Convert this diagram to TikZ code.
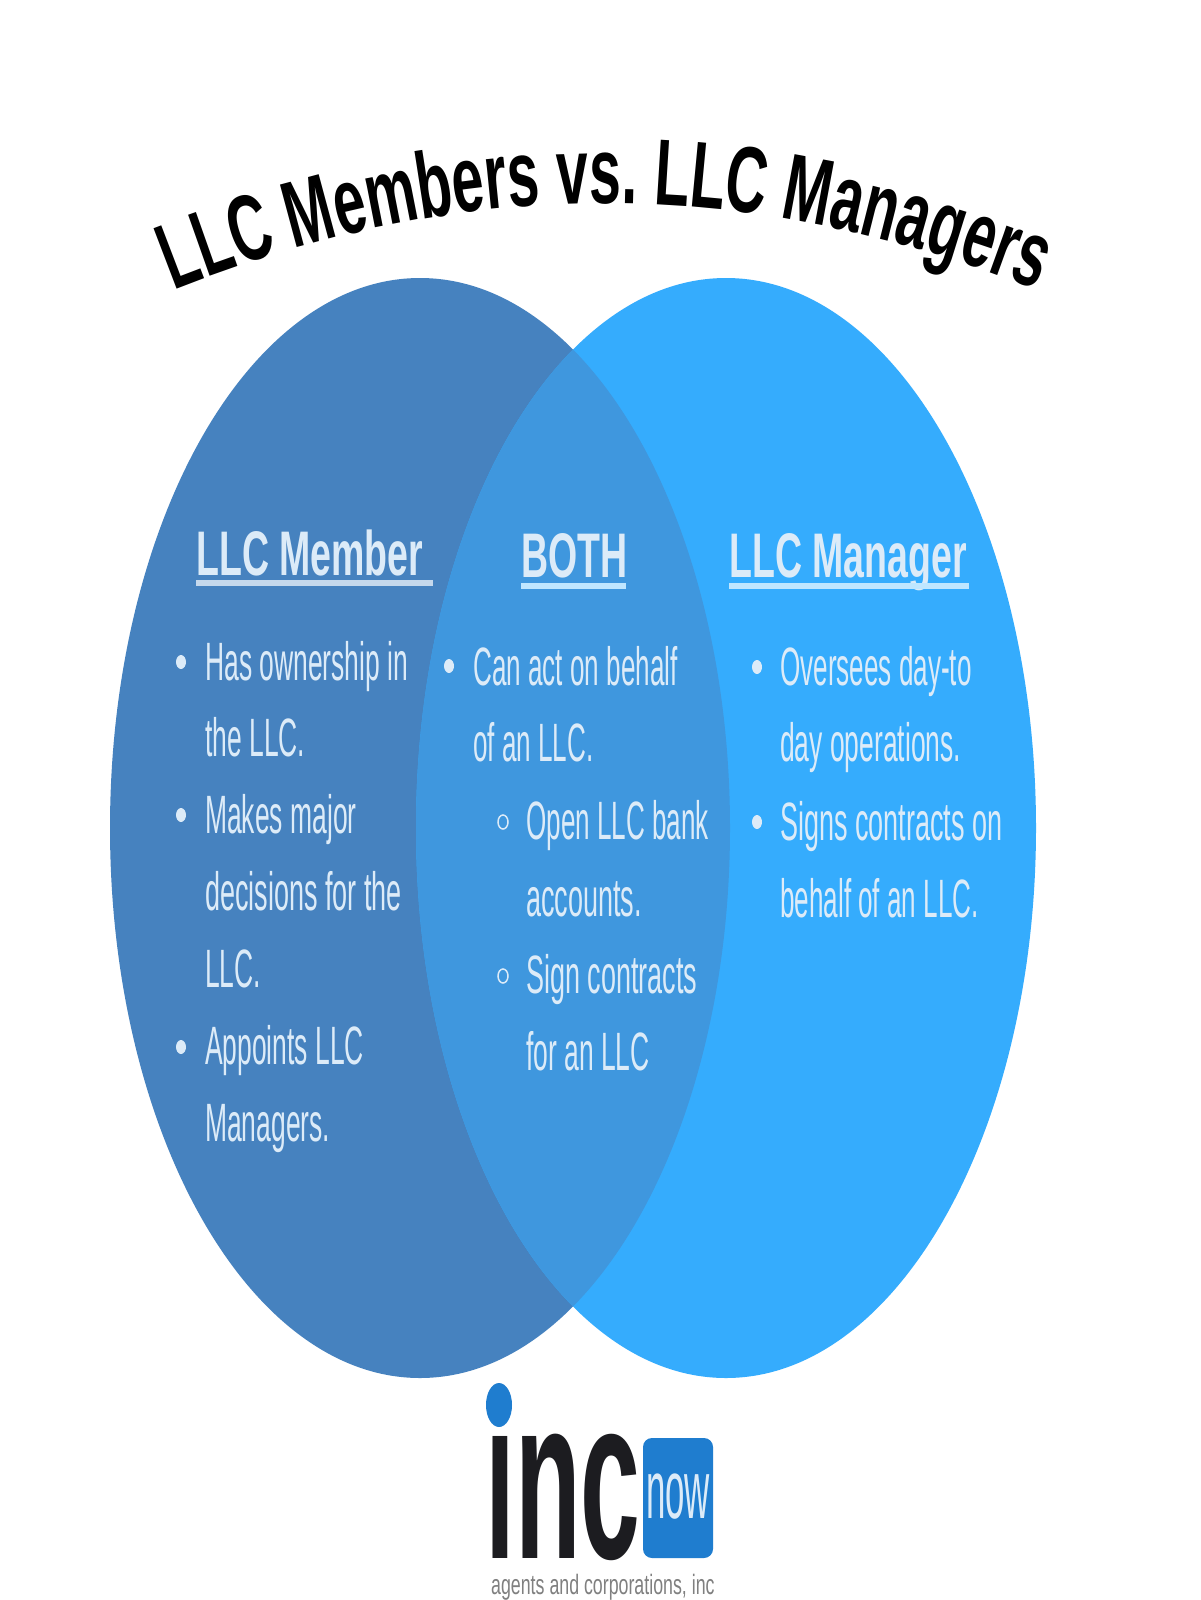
\documentclass[tikz,border=0pt]{standalone}
\usepackage{fontspec}
\usetikzlibrary{decorations.text}
\setmainfont{Liberation Sans}
\newfontfamily\bodyf[FakeStretch=0.49]{Liberation Sans}
\newfontfamily\bodyn[FakeStretch=0.483]{Liberation Sans}
\newfontfamily\bodyw[FakeStretch=0.5]{Liberation Sans}
\newfontfamily\headf[FakeStretch=0.595]{Liberation Sans Bold}
\newfontfamily\titlef[FakeStretch=0.61]{Liberation Sans Bold}
\newfontfamily\incf[FakeStretch=0.465]{Liberation Sans Bold}
\newfontfamily\nowf[FakeStretch=0.42]{Liberation Sans}
\newfontfamily\tagf[FakeStretch=0.635]{Liberation Sans}
\definecolor{leftc}{HTML}{4682BF}
\definecolor{midc}{HTML}{3F97DE}
\definecolor{rightc}{HTML}{35ACFD}
\definecolor{txtc}{HTML}{DCEBF8}
\definecolor{ruleL}{HTML}{C5D8EC}
\definecolor{ruleR}{HTML}{BFE6FF}
\definecolor{logoblue}{HTML}{1F7DCF}
\definecolor{logodark}{HTML}{1C1C20}
\tikzset{
  bodytxt/.style={anchor=base west,inner sep=0pt,text=txtc,font=\fontsize{54}{54}\bodyf},
  bodytxtn/.style={bodytxt,font=\fontsize{54}{54}\bodyn},
  bodytxtw/.style={bodytxt,font=\fontsize{54}{54}\bodyw},
  headtxt/.style={anchor=base west,inner sep=0pt,text=txtc,font=\fontsize{63}{63}\headf}
}
\begin{document}
\begin{tikzpicture}[x=1pt,y=-1pt]
\useasboundingbox (0,0) rectangle (1200,1600);
\fill[white] (0,0) rectangle (1200,1600);
% Venn
\fill[leftc] (420,828) ellipse [x radius=310,y radius=550];
\fill[rightc] (726,828) ellipse [x radius=310,y radius=550];
\begin{scope}
  \clip (420,828) ellipse [x radius=310,y radius=550];
  \fill[midc] (726,828) ellipse [x radius=310,y radius=550];
\end{scope}
% Title
\path[decorate,decoration={text along path,text align=center,
  text={|\fontsize{94}{94}\titlef|LLC Members vs. LLC Managers}}]
  (154,298) .. controls (459,172) and (751,172) .. (1056,298);
% Headings
\node[headtxt] (h1) at (196,575) {LLC Member};
\node[headtxt] (h2) at (521,577) {BOTH};
\node[headtxt] (h3) at (729,577) {LLC Manager};
\fill[ruleL] (196,580) rectangle (433,586);
\fill[ruleR] (521,583) rectangle (626,589);
\fill[ruleR] (729,583) rectangle (969,589);
% Left column
\node[bodytxt] (l1) at (205,680) {Has ownership in};
\node[bodytxt] (l2) at (205,756) {the LLC.};
\node[bodytxt] (l3) at (205,833) {Makes major};
\node[bodytxtw] (l4) at (205,910) {decisions for the};
\node[bodytxt] (l5) at (205,987) {LLC.};
\node[bodytxt] (l6) at (205,1064) {Appoints LLC};
\node[bodytxt] (l7) at (205,1141) {Managers.};
\fill[txtc] (181,662) ellipse [x radius=5,y radius=7];
\fill[txtc] (181,815) ellipse [x radius=5,y radius=7];
\fill[txtc] (181,1047) ellipse [x radius=5,y radius=7];
% Middle column
\node[bodytxtn] (m1) at (473,685) {Can act on behalf};
\node[bodytxtn] (m2) at (473,761) {of an LLC.};
\node[bodytxtn] (m3) at (526,839) {Open LLC bank};
\node[bodytxtw] (m4) at (526,916) {accounts.};
\node[bodytxtw] (m5) at (526,993) {Sign contracts};
\node[bodytxt] (m6) at (526,1070) {for an LLC};
\fill[txtc] (449,666) ellipse [x radius=5,y radius=7];
\draw[txtc,line width=1.5pt] (503,822) ellipse [x radius=5,y radius=7];
\draw[txtc,line width=1.5pt] (503,976) ellipse [x radius=5,y radius=7];
% Right column
\node[bodytxtn] (r1) at (780,685) {Oversees day-to};
\node[bodytxt] (r2) at (780,761) {day operations.};
\node[bodytxtw] (r3) at (780,840) {Signs contracts on};
\node[bodytxtn] (r4) at (780,917) {behalf of an LLC.};
\fill[txtc] (757,667) ellipse [x radius=5,y radius=7];
\fill[txtc] (757,822) ellipse [x radius=5,y radius=7];
% Logo
\node[anchor=base west,inner sep=0pt,text=logodark,font=\fontsize{231}{231}\incf] (inc) at (485,1558) {inc};
\fill[logoblue] (499,1405) ellipse [x radius=13,y radius=22];
\fill[logoblue,rounded corners=9pt] (643,1438) rectangle (713,1558);
\node[anchor=base,inner sep=0pt,text=txtc,font=\fontsize{83}{83}\nowf] (now) at (678,1518) {now};
\node[anchor=base west,inner sep=0pt,text=gray,font=\fontsize{28}{28}\tagf] (tag) at (491,1594) {agents and corporations, inc};
\end{tikzpicture}
\end{document}
